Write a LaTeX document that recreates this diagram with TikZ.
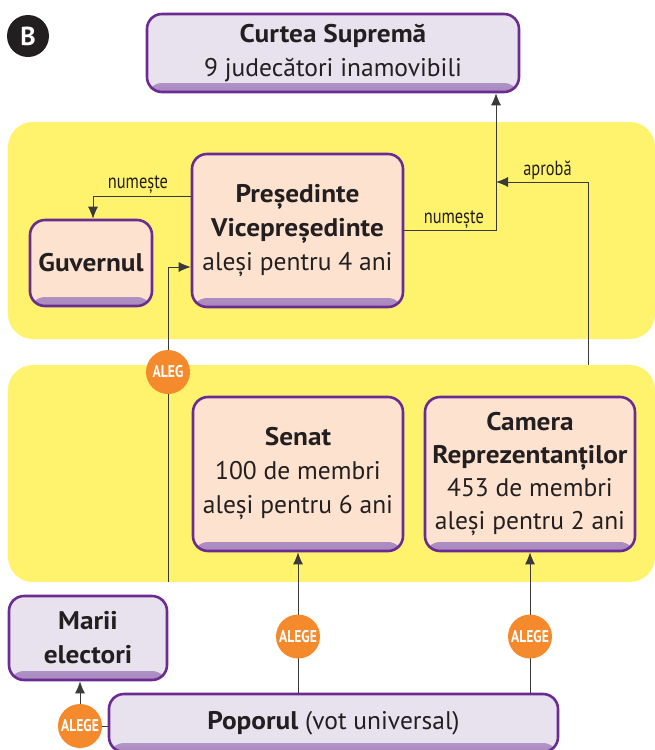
\documentclass[tikz,border=0pt]{standalone}
\usepackage{fontspec}
\setmainfont{PT Sans}
\usetikzlibrary{arrows.meta,calc}
\definecolor{mov}{HTML}{6B2C91}
\definecolor{lila}{HTML}{E8E1EE}
\definecolor{piersica}{HTML}{FDE3CF}
\definecolor{galben}{HTML}{FFF36D}
\definecolor{portocal}{HTML}{F58A2C}
\definecolor{umbra}{HTML}{A888C0}
\definecolor{linie}{HTML}{3A3A3A}
\definecolor{negru}{HTML}{231F20}
\newcommand{\ingust}[1]{\scalebox{0.8}[1]{#1}}
\newcommand{\gros}[1]{\scalebox{1.07}[1]{\textbf{#1}}}
\tikzset{
  caseta/.style={draw=mov,line width=2.6pt,rounded corners=15pt,fill=#1,align=center,
    inner sep=0pt,text=negru,font=\fontsize{25.5}{34}\selectfont,
    path picture={\shade[top color=#1,bottom color=umbra]
      ($(path picture bounding box.south west)+(0,9pt)$) rectangle (path picture bounding box.south east);}},
  banda/.style={fill=galben,rounded corners=25pt,minimum width=647pt,minimum height=217pt,inner sep=0pt},
  alege/.style={circle,fill=portocal,minimum size=44pt,inner sep=0pt,text=white,
    font=\bfseries\fontsize{17}{17}\selectfont},
  eticheta/.style={font=\fontsize{20.5}{20.5}\selectfont,text=negru,inner sep=2pt},
  sageata/.style={draw=linie,line width=0.9pt,-{Latex[length=12pt,width=10pt]}},
  fir/.style={draw=linie,line width=0.9pt}
}
\begin{document}
\begin{tikzpicture}[x=1pt,y=-1pt]
  \useasboundingbox (0,0) rectangle (655,750);
  \begin{scope}
  \clip (0,0) rectangle (655,750);
  % benzi galbene
  \node[banda] (executiv) at (331.5,230.5) {};
  \node[banda] (congres) at (331.5,473.5) {};
  % casete
  \node[circle,fill=negru,minimum size=42pt,inner sep=0pt,text=white,font=\bfseries\fontsize{26}{26}\selectfont] (B) at (28,36) {B};
  \node[caseta=lila,minimum width=372pt,minimum height=78pt] (curtea) at (333,53)
    {\gros{Curtea Supremă}\\9 judecători inamovibili};
  \node[caseta=piersica,minimum width=122pt,minimum height=86pt] (guv) at (91,263) {\gros{Guvernul}};
  \node[caseta=piersica,minimum width=211pt,minimum height=153pt] (pres) at (297.5,230.5)
    {\gros{Președinte}\\\gros{Vicepreședinte}\\aleși pentru 4 ani};
  \node[caseta=piersica,minimum width=210pt,minimum height=154pt] (senat) at (298,474)
    {\gros{Senat}\\100 de membri\\aleși pentru 6 ani};
  \node[caseta=piersica,minimum width=210pt,minimum height=154pt,font=\fontsize{25.5}{33}\selectfont] (camera) at (530,474)
    {\gros{Camera}\\\gros{Reprezentanților}\\453 de membri\\aleși pentru 2 ani};
  \node[caseta=lila,minimum width=158pt,minimum height=84pt] (marii) at (88,638)
    {\gros{Marii}\\\gros{electori}};
  \node[caseta=lila,minimum width=449pt,minimum height=58pt] (popor) at (333.5,723)
    {\gros{Poporul} (vot universal)};
  % legaturi
  \coordinate (nod) at (496,182);
  \draw[sageata] ([yshift=34.5pt]pres.west) -| node[eticheta,above,pos=0.27]{\ingust{numește}} ([xshift=2pt]guv.north);
  \draw[sageata] (pres.east) -| node[eticheta,above,pos=0.27]{\ingust{numește}} ([xshift=163pt]curtea.south);
  \draw[sageata] ([xshift=256.5pt]congres.north) |- node[eticheta,above,pos=0.72]{\ingust{aprobă}} (nod);
  \draw[sageata] ([xshift=-163.5pt]congres.south) |- ([yshift=-36.5pt]pres.west);
  \node[alege] (aleg) at (168,372) {\ingust{ALEG}};
  \draw[sageata] (popor.north -| senat.south) -- node[alege,pos=0.4]{\ingust{ALEGE}} (senat.south);
  \draw[sageata] (popor.north -| camera.south) -- node[alege,pos=0.4]{\ingust{ALEGE}} (camera.south);
  \node[alege] (alegeM) at (80,726) {\ingust{ALEGE}};
  \draw[fir] (alegeM.east) -- (alegeM.east -| popor.west);
  \draw[sageata] (alegeM.north) -- (alegeM.north |- marii.south);
  \end{scope}
\end{tikzpicture}
\end{document}
